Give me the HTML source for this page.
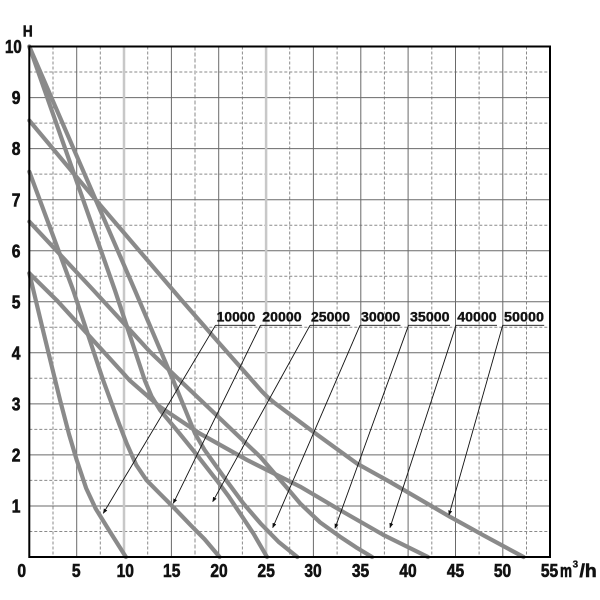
<!DOCTYPE html>
<html>
<head>
<meta charset="utf-8">
<style>
  html,body{margin:0;padding:0;background:#fff;}
  svg{display:block;}
  text{font-family:"Liberation Sans", "DejaVu Sans", sans-serif;font-weight:bold;fill:#111;}
</style>
</head>
<body>
<svg width="600" height="600" viewBox="0 0 600 600" xmlns="http://www.w3.org/2000/svg">
  <defs>
    <marker id="ah" viewBox="0 0 10 10" refX="9" refY="5" markerWidth="5" markerHeight="5" orient="auto" markerUnits="userSpaceOnUse">
      <path d="M0,1 L10,5 L0,9 z" fill="#111"/>
    </marker>
  </defs>
  <rect x="0" y="0" width="600" height="600" fill="#fff"/>

  <!-- dashed grid -->
  <g stroke="#8a8a8a" stroke-width="1" stroke-dasharray="3,2" fill="none">
    <line x1="53" y1="46.5" x2="53" y2="557"/>
    <line x1="100.3" y1="46.5" x2="100.3" y2="557"/>
    <line x1="147.7" y1="46.5" x2="147.7" y2="557"/>
    <line x1="242.4" y1="46.5" x2="242.4" y2="557"/>
    <line x1="289.7" y1="46.5" x2="289.7" y2="557"/>
    <line x1="337.1" y1="46.5" x2="337.1" y2="557"/>
    <line x1="384.4" y1="46.5" x2="384.4" y2="557"/>
    <line x1="431.8" y1="46.5" x2="431.8" y2="557"/>
    <line x1="479.1" y1="46.5" x2="479.1" y2="557"/>
    <line x1="526.5" y1="46.5" x2="526.5" y2="557"/>

    <line x1="29.3" y1="531.5" x2="550" y2="531.5"/>
    <line x1="29.3" y1="480.4" x2="550" y2="480.4"/>
    <line x1="29.3" y1="429.4" x2="550" y2="429.4"/>
    <line x1="29.3" y1="378.3" x2="550" y2="378.3"/>
    <line x1="29.3" y1="327.3" x2="550" y2="327.3"/>
    <line x1="29.3" y1="276.2" x2="550" y2="276.2"/>
    <line x1="29.3" y1="225.2" x2="550" y2="225.2"/>
    <line x1="29.3" y1="174.1" x2="550" y2="174.1"/>
    <line x1="29.3" y1="123.1" x2="550" y2="123.1"/>
    <line x1="29.3" y1="72" x2="550" y2="72"/>
  </g>
  <!-- light dashed at 17.5 -->
  <line x1="195" y1="46.5" x2="195" y2="557" stroke="#c4c4c4" stroke-width="2" stroke-dasharray="4,2"/>

  <!-- solid grid -->
  <g stroke="#6a6a6a" stroke-width="1" fill="none">
    <line x1="76.7" y1="46.5" x2="76.7" y2="557"/>
    <line x1="171.4" y1="46.5" x2="171.4" y2="557"/>
    <line x1="218.7" y1="46.5" x2="218.7" y2="557"/>
    <line x1="313.4" y1="46.5" x2="313.4" y2="557"/>
    <line x1="360.8" y1="46.5" x2="360.8" y2="557"/>
    <line x1="408.1" y1="46.5" x2="408.1" y2="557"/>
    <line x1="455.5" y1="46.5" x2="455.5" y2="557"/>
    <line x1="502.8" y1="46.5" x2="502.8" y2="557"/>

    <line x1="29.3" y1="506" x2="550" y2="506"/>
    <line x1="29.3" y1="454.9" x2="550" y2="454.9"/>
    <line x1="29.3" y1="403.9" x2="550" y2="403.9"/>
    <line x1="29.3" y1="352.8" x2="550" y2="352.8"/>
    <line x1="29.3" y1="301.8" x2="550" y2="301.8"/>
    <line x1="29.3" y1="250.7" x2="550" y2="250.7"/>
    <line x1="29.3" y1="199.7" x2="550" y2="199.7"/>
    <line x1="29.3" y1="148.6" x2="550" y2="148.6"/>
    <line x1="29.3" y1="97.6" x2="550" y2="97.6"/>
  </g>
  <!-- light thick solid lines at 10 and 25 -->
  <line x1="124" y1="46.5" x2="124" y2="557" stroke="#c8c8c8" stroke-width="2.5"/>
  <line x1="266.1" y1="46.5" x2="266.1" y2="557" stroke="#c8c8c8" stroke-width="2.5"/>

  <!-- curves -->
  <g stroke="#8a8a8a" stroke-width="4.2" fill="none" stroke-linejoin="round" stroke-linecap="round">
    <!-- 10000 -->
    <polyline points="29.3,273.2 43.5,332.4 60.1,400.3 69.1,434.5 76.7,460 86.1,488.1 95.6,508.5 109.8,531.5 125.9,557"/>
    <!-- 20000 -->
    <polyline points="29.3,171.6 73.3,290.5 103.2,380.4 119.3,424.3 126.8,443.7 136.3,465.1 146.7,480.4 160,493.8 173.2,507 190.3,524.8 204.5,539.1 219.6,557"/>
    <!-- 25000 -->
    <polyline points="29.3,46.5 115,290.5 144.8,380.4 151.5,396.2 160,410 177,430.4 196.9,454.9 216.8,480.4 228.2,495.7 239.5,512.6 253.7,534 267,557"/>
    <!-- 30000 -->
    <polyline points="29.3,46.5 135,290.5 173.2,380.4 185.6,410.5 195,433.5 204.5,449.8 226.3,480.4 243.3,503.4 260.4,523.3 278.4,541.7 297.3,557"/>
    <!-- 35000 -->
    <polyline points="29.3,221.6 93.7,290.5 150,351.8 179.9,380.4 219.6,418.1 260.4,457 285,485.5 300.1,503.4 320,522.3 339.9,536.6 356,547.3 372.1,557"/>
    <!-- 40000 -->
    <polyline points="29.3,273.2 56.7,300.2 129.7,380.4 160,406.9 199.8,433.5 247.1,460 300.1,486.6 339.9,510 383.5,535 428,557"/>
    <!-- 50000 -->
    <polyline points="29.3,120.5 95.6,199.7 180.8,299.2 219.6,343.6 262,391.5 268,397.5 274,402.5 280.3,407.2 313.4,431.9 357,463.6 390.1,482 449.8,516.7 483.9,535.6 523.6,557"/>
  </g>

  <!-- border -->
  <rect x="29.3" y="46.5" width="520.7" height="510.5" fill="none" stroke="#000" stroke-width="2"/>

  <!-- leaders -->
  <g stroke="#111" stroke-width="0.9" fill="none">
    <line x1="215.5" y1="325.3" x2="103.3" y2="513.3" marker-end="url(#ah)"/>
    <line x1="260.5" y1="325.3" x2="173.3" y2="503.3" marker-end="url(#ah)"/>
    <line x1="310" y1="325.3" x2="212.7" y2="501.7" marker-end="url(#ah)"/>
    <line x1="360" y1="325.3" x2="272.7" y2="527.7" marker-end="url(#ah)"/>
    <line x1="408.5" y1="325.3" x2="335" y2="528.3" marker-end="url(#ah)"/>
    <line x1="456" y1="325.3" x2="390" y2="527.7" marker-end="url(#ah)"/>
    <line x1="502.7" y1="325.3" x2="449" y2="515" marker-end="url(#ah)"/>
    <!-- underlines -->
    <line x1="215.5" y1="325.3" x2="255.5" y2="325.3"/>
    <line x1="260.5" y1="325.3" x2="301.8" y2="325.3"/>
    <line x1="310" y1="325.3" x2="350.2" y2="325.3"/>
    <line x1="360" y1="325.3" x2="400.5" y2="325.3"/>
    <line x1="408.5" y1="325.3" x2="450" y2="325.3"/>
    <line x1="456" y1="325.3" x2="497" y2="325.3"/>
    <line x1="502.7" y1="325.3" x2="544.2" y2="325.3"/>
  </g>

  <!-- curve labels -->
  <g font-size="13.5" stroke="#111" stroke-width="0.35">
    <text x="216.7" y="321.7" textLength="38.5" lengthAdjust="spacingAndGlyphs">10000</text>
    <text x="262.3" y="321.7" textLength="39.3" lengthAdjust="spacingAndGlyphs">20000</text>
    <text x="311" y="321.7" textLength="39" lengthAdjust="spacingAndGlyphs">25000</text>
    <text x="361" y="321.7" textLength="39.3" lengthAdjust="spacingAndGlyphs">30000</text>
    <text x="410" y="321.7" textLength="39.6" lengthAdjust="spacingAndGlyphs">35000</text>
    <text x="457.3" y="321.7" textLength="39.4" lengthAdjust="spacingAndGlyphs">40000</text>
    <text x="504" y="321.7" textLength="40" lengthAdjust="spacingAndGlyphs">50000</text>
  </g>

  <!-- y axis labels -->
  <g font-size="18" text-anchor="end" stroke="#111" stroke-width="0.6">
    <text x="21.7" y="53.2" textLength="16.7" lengthAdjust="spacingAndGlyphs">10</text>
    <text x="20.5" y="104.2" textLength="8.7" lengthAdjust="spacingAndGlyphs">9</text>
    <text x="20.5" y="155.2" textLength="8.7" lengthAdjust="spacingAndGlyphs">8</text>
    <text x="20.5" y="206.3" textLength="8.7" lengthAdjust="spacingAndGlyphs">7</text>
    <text x="20.5" y="257.3" textLength="8.7" lengthAdjust="spacingAndGlyphs">6</text>
    <text x="20.5" y="308.4" textLength="8.7" lengthAdjust="spacingAndGlyphs">5</text>
    <text x="20.5" y="359.4" textLength="8.7" lengthAdjust="spacingAndGlyphs">4</text>
    <text x="20.5" y="410.5" textLength="8.7" lengthAdjust="spacingAndGlyphs">3</text>
    <text x="20.5" y="461.5" textLength="8.7" lengthAdjust="spacingAndGlyphs">2</text>
    <text x="20.5" y="512.6" textLength="8.7" lengthAdjust="spacingAndGlyphs">1</text>
  </g>
  <text x="22.7" y="36.7" font-size="16" textLength="10" lengthAdjust="spacingAndGlyphs" stroke="#111" stroke-width="0.5">H</text>

  <!-- x axis labels -->
  <g font-size="18" text-anchor="middle" stroke="#111" stroke-width="0.6">
    <text x="21.7" y="577" textLength="8.7" lengthAdjust="spacingAndGlyphs">0</text>
    <text x="76.2" y="577" textLength="8.7" lengthAdjust="spacingAndGlyphs">5</text>
    <text x="125.3" y="577" textLength="17.3" lengthAdjust="spacingAndGlyphs">10</text>
    <text x="171.7" y="577" textLength="17.3" lengthAdjust="spacingAndGlyphs">15</text>
    <text x="219" y="577" textLength="17.3" lengthAdjust="spacingAndGlyphs">20</text>
    <text x="266.2" y="577" textLength="17.3" lengthAdjust="spacingAndGlyphs">25</text>
    <text x="313" y="577" textLength="17.3" lengthAdjust="spacingAndGlyphs">30</text>
    <text x="360.5" y="577" textLength="17.3" lengthAdjust="spacingAndGlyphs">35</text>
    <text x="408" y="577" textLength="17.3" lengthAdjust="spacingAndGlyphs">40</text>
    <text x="455.5" y="577" textLength="17.3" lengthAdjust="spacingAndGlyphs">45</text>
    <text x="502.5" y="577" textLength="17.3" lengthAdjust="spacingAndGlyphs">50</text>
    <text x="549.5" y="577" textLength="17.3" lengthAdjust="spacingAndGlyphs">55</text>
  </g>
  <g stroke="#111" stroke-width="0.6">
    <text x="560" y="577" font-size="18" textLength="12" lengthAdjust="spacingAndGlyphs">m</text>
    <text x="572.6" y="567.5" font-size="10" textLength="5.5" lengthAdjust="spacingAndGlyphs" stroke-width="0.3">3</text>
    <text x="579.5" y="577" font-size="18" textLength="17.2" lengthAdjust="spacingAndGlyphs">/h</text>
  </g>
</svg>
</body>
</html>
